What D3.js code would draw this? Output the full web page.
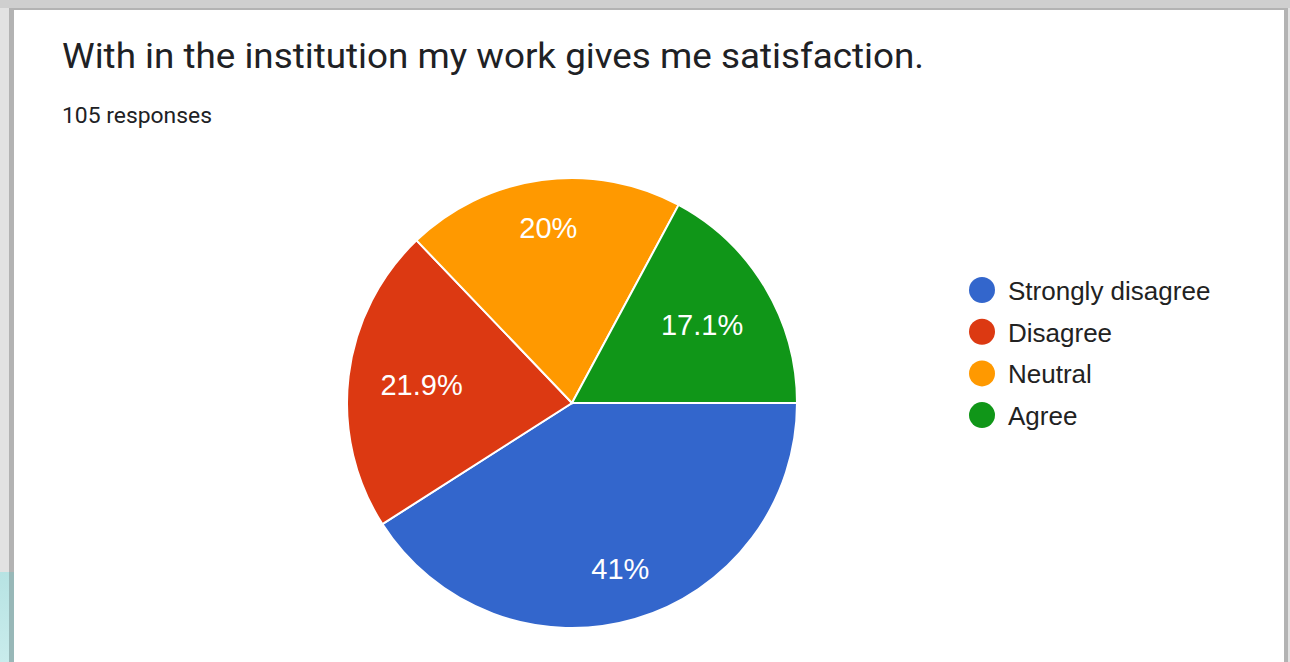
<!DOCTYPE html>
<html>
<head>
<meta charset="utf-8">
<script src="https://cdn.jsdelivr.net/npm/d3@7"></script>
<style>
  html, body { margin: 0; padding: 0; background: #dcdcdc; }
  svg { display: block; }
</style>
</head>
<body>
<svg id="chart" width="1290" height="662"></svg>
<script>
// Survey answers (counts out of 105 responses)
const categories = ["Strongly disagree", "Disagree", "Neutral", "Agree"];
const counts = [43, 23, 21, 18];
const colors = ["#3366cc", "#dc3912", "#ff9900", "#109618"];
const titleText = "With in the institution my work gives me satisfaction.";
const subtitleText = "105 responses";

const W = 1290, H = 662;
const svg = d3.select("#chart");

// card frame
const defs = svg.append("defs");
const lg = defs.append("linearGradient").attr("id", "teal").attr("x1", 0).attr("x2", 0).attr("y1", 0).attr("y2", 1);
lg.append("stop").attr("offset", 0).attr("stop-color", "#b7e3e3");
lg.append("stop").attr("offset", 1).attr("stop-color", "#c9ecec");

svg.append("rect").attr("x", 0).attr("y", 0).attr("width", W).attr("height", H).attr("fill", "#e2e2e2");
svg.append("rect").attr("x", 0).attr("y", 0).attr("width", W).attr("height", 8).attr("fill", "#cfcfcf");
svg.append("rect").attr("x", 0).attr("y", 572).attr("width", 10).attr("height", H - 572).attr("fill", "url(#teal)");
svg.append("rect").attr("x", 9).attr("y", 8).attr("width", 1279).attr("height", H).attr("fill", "#b3b3b3");
svg.append("rect").attr("x", 9).attr("y", 572).attr("width", 5).attr("height", H - 572).attr("fill", "#98b8b8");
svg.append("rect").attr("x", 14).attr("y", 10).attr("width", 1270).attr("height", H).attr("fill", "#ffffff");

// headings
const fitText = (sel, width) => {
  const len = sel.node().getComputedTextLength();
  if (len > 0) sel.attr("textLength", width).attr("lengthAdjust", "spacingAndGlyphs");
};
const title = svg.append("text").attr("x", 62).attr("y", 68)
  .attr("font-family", "Roboto, 'Noto Sans', sans-serif").attr("font-size", 35)
  .attr("fill", "#202124").text(titleText);
fitText(title, 862);
const sub = svg.append("text").attr("x", 62).attr("y", 123)
  .attr("font-family", "Roboto, 'Noto Sans', sans-serif").attr("font-size", 22)
  .attr("fill", "#202124").text(subtitleText);
fitText(sub, 150);

// pie
const cx = 572, cy = 403, r = 225;
const total = d3.sum(counts);
const data = categories.map((c, i) => ({ cat: c, value: counts[i], color: colors[i] }));
const pie = d3.pie().value(d => d.value).sort(null)
  .startAngle(Math.PI / 2).endAngle(Math.PI / 2 + 2 * Math.PI);
const arc = d3.arc().innerRadius(0).outerRadius(r);
const arcs = pie(data);

const g = svg.append("g").attr("transform", `translate(${cx},${cy})`);
g.selectAll("path.slice").data(arcs).enter().append("path")
  .attr("class", "slice")
  .attr("d", arc)
  .attr("fill", d => d.data.color)
  .attr("stroke", "#ffffff").attr("stroke-width", 2);

// slice labels: box pulled inward so its outer edge sits near a fixed radius
const fmt = v => {
  const p = v / total * 100;
  const s = (Math.round(p * 10) / 10).toFixed(1);
  return (s.endsWith(".0") ? s.slice(0, -2) : s) + "%";
};
const edgeR = 194;
g.selectAll("text.lbl").data(arcs).enter().append("text")
  .attr("class", "lbl")
  .attr("font-family", "'Liberation Sans', Arial, sans-serif")
  .attr("font-size", 29)
  .attr("fill", "#ffffff")
  .attr("text-anchor", "middle")
  .attr("dominant-baseline", "central")
  .text(d => fmt(d.data.value))
  .each(function (d) {
    const a = (d.startAngle + d.endAngle) / 2;
    const ux = Math.sin(a), uy = -Math.cos(a);
    const w = this.getComputedTextLength() / 2, h = 14;
    const rr = edgeR - (w * Math.abs(ux) + h * Math.abs(uy));
    d3.select(this).attr("x", rr * ux).attr("y", rr * uy);
  });

// legend
const legend = svg.append("g").attr("transform", "translate(982,290)");
const item = legend.selectAll("g").data(data).enter().append("g")
  .attr("transform", (d, i) => `translate(0,${i * 41.7})`);
item.append("circle").attr("r", 13).attr("fill", d => d.color);
item.append("text").attr("x", 26).attr("y", 1)
  .attr("dominant-baseline", "central")
  .attr("font-family", "'Liberation Sans', Arial, sans-serif")
  .attr("font-size", 26).attr("fill", "#222222")
  .text(d => d.cat);
</script>
</body>
</html>
